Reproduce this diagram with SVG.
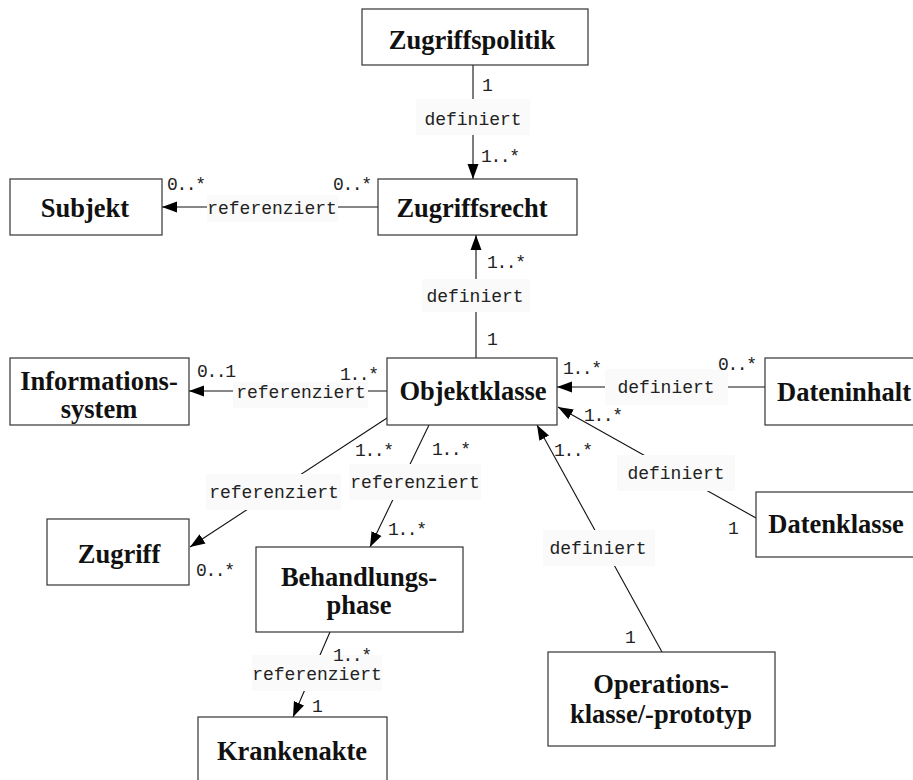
<svg xmlns="http://www.w3.org/2000/svg" width="913" height="780" viewBox="0 0 913 780">
  <defs>
    <marker id="arrow" markerUnits="userSpaceOnUse" markerWidth="16" markerHeight="12" refX="15" refY="6" orient="auto">
      <path d="M0,0.5 L15,6 L0,11.5 z" fill="#000"/>
    </marker>
    <style>
      .box { fill: #fff; stroke: #333; stroke-width: 1.2; }
      .nt { font-family: "Liberation Serif", "Times New Roman", serif; font-weight: bold; font-size: 26.5px; text-anchor: middle; fill: #111; }
      .edge { stroke: #111; stroke-width: 1.1; fill: none; }
      .lbg { fill: #fafafa; }
      .lbl { font-family: "Liberation Mono", "Courier New", monospace; font-size: 18px; text-anchor: middle; fill: #222; }
      .mult { font-family: "Liberation Mono", "Courier New", monospace; font-size: 18px; letter-spacing: -1.4px; fill: #222; }
    </style>
  </defs>
  <rect width="913" height="780" fill="#fff"/>

  <!-- associations -->
  <g id="connectors">
    <!-- Zugriffspolitik -> Zugriffsrecht -->
    <line class="edge" x1="473" y1="65" x2="473" y2="179" marker-end="url(#arrow)"/>
    <rect class="lbg" x="416" y="99" width="114" height="36"/>
    <text class="lbl" x="473" y="125">definiert</text>
    <text class="mult" x="482" y="91">1</text>
    <text class="mult" x="481" y="162">1..*</text>

    <!-- Zugriffsrecht -> Subjekt -->
    <line class="edge" x1="378" y1="207" x2="162" y2="207" marker-end="url(#arrow)"/>
    <rect class="lbg" x="207" y="195" width="131" height="27"/>
    <text class="lbl" x="272" y="214">referenziert</text>
    <text class="mult" x="167" y="190">0..*</text>
    <text class="mult" x="333" y="190">0..*</text>

    <!-- Objektklasse -> Zugriffsrecht -->
    <line class="edge" x1="476" y1="358" x2="476" y2="235" marker-end="url(#arrow)"/>
    <rect class="lbg" x="422" y="279" width="108" height="33"/>
    <text class="lbl" x="475" y="302">definiert</text>
    <text class="mult" x="487" y="268">1..*</text>
    <text class="mult" x="487" y="345">1</text>

    <!-- Objektklasse -> Informationssystem -->
    <line class="edge" x1="387" y1="391" x2="189" y2="391" marker-end="url(#arrow)"/>
    <rect class="lbg" x="233" y="382" width="135" height="26"/>
    <text class="lbl" x="301" y="398">referenziert</text>
    <text class="mult" x="197" y="377">0..1</text>
    <text class="mult" x="340" y="380">1..*</text>

    <!-- Dateninhalt -> Objektklasse -->
    <line class="edge" x1="765" y1="387" x2="557" y2="387" marker-end="url(#arrow)"/>
    <rect class="lbg" x="605" y="369" width="123" height="36"/>
    <text class="lbl" x="666" y="393">definiert</text>
    <text class="mult" x="563" y="374">1..*</text>
    <text class="mult" x="718" y="370">0..*</text>

    <!-- Datenklasse -> Objektklasse -->
    <line class="edge" x1="756" y1="518" x2="558" y2="407" marker-end="url(#arrow)"/>
    <rect class="lbg" x="617" y="455" width="118" height="36"/>
    <text class="lbl" x="676" y="479">definiert</text>
    <text class="mult" x="584" y="421">1..*</text>
    <text class="mult" x="728" y="534">1</text>

    <!-- Operationsklasse/-prototyp -> Objektklasse -->
    <line class="edge" x1="662" y1="652" x2="537" y2="425" marker-end="url(#arrow)"/>
    <rect class="lbg" x="543" y="530" width="112" height="36"/>
    <text class="lbl" x="598" y="554">definiert</text>
    <text class="mult" x="554" y="456">1..*</text>
    <text class="mult" x="625" y="643">1</text>

    <!-- Objektklasse -> Zugriff -->
    <line class="edge" x1="387" y1="418" x2="190" y2="547" marker-end="url(#arrow)"/>
    <rect class="lbg" x="206" y="474" width="135" height="36"/>
    <text class="lbl" x="274" y="498">referenziert</text>
    <text class="mult" x="355" y="456">1..*</text>
    <text class="mult" x="196" y="576">0..*</text>

    <!-- Objektklasse -> Behandlungsphase -->
    <line class="edge" x1="429" y1="425" x2="370" y2="547" marker-end="url(#arrow)"/>
    <rect class="lbg" x="349" y="464" width="132" height="36"/>
    <text class="lbl" x="415" y="488">referenziert</text>
    <text class="mult" x="432" y="455">1..*</text>
    <text class="mult" x="388" y="535">1..*</text>

    <!-- Behandlungsphase -> Krankenakte -->
    <line class="edge" x1="330" y1="632" x2="293" y2="717" marker-end="url(#arrow)"/>
    <rect class="lbg" x="252" y="655" width="130" height="36"/>
    <text class="lbl" x="317" y="680">referenziert</text>
    <text class="mult" x="333" y="661">1..*</text>
    <text class="mult" x="312" y="712">1</text>
  </g>

  <!-- classes -->
  <g id="zugriffspolitik">
    <rect class="box" x="362" y="9" width="226" height="56"/>
    <text class="nt" x="472" y="49">Zugriffspolitik</text>
  </g>
  <g id="zugriffsrecht">
    <rect class="box" x="378" y="179" width="199" height="56"/>
    <text class="nt" x="472" y="217">Zugriffsrecht</text>
  </g>
  <g id="subjekt">
    <rect class="box" x="10" y="179" width="152" height="56"/>
    <text class="nt" x="85" y="217">Subjekt</text>
  </g>
  <g id="informationssystem">
    <rect class="box" x="10" y="358" width="179" height="67"/>
    <text class="nt" x="99" y="390">Informations-</text>
    <text class="nt" x="99" y="418">system</text>
  </g>
  <g id="objektklasse">
    <rect class="box" x="387" y="358" width="170" height="67"/>
    <text class="nt" x="473" y="400">Objektklasse</text>
  </g>
  <g id="dateninhalt">
    <rect class="box" x="765" y="358" width="160" height="67"/>
    <text class="nt" x="844" y="401">Dateninhalt</text>
  </g>
  <g id="datenklasse">
    <rect class="box" x="756" y="492" width="170" height="65"/>
    <text class="nt" x="836" y="533">Datenklasse</text>
  </g>
  <g id="zugriff">
    <rect class="box" x="47" y="519" width="142" height="66"/>
    <text class="nt" x="119" y="563">Zugriff</text>
  </g>
  <g id="behandlungsphase">
    <rect class="box" x="256" y="547" width="207" height="85"/>
    <text class="nt" x="359" y="586">Behandlungs-</text>
    <text class="nt" x="359" y="614">phase</text>
  </g>
  <g id="operationsklasse">
    <rect class="box" x="548" y="652" width="227" height="94"/>
    <text class="nt" x="661" y="693">Operations-</text>
    <text class="nt" x="661" y="723">klasse/-prototyp</text>
  </g>
  <g id="krankenakte">
    <rect class="box" x="198" y="717" width="189" height="70"/>
    <text class="nt" x="292" y="760">Krankenakte</text>
  </g>
</svg>
